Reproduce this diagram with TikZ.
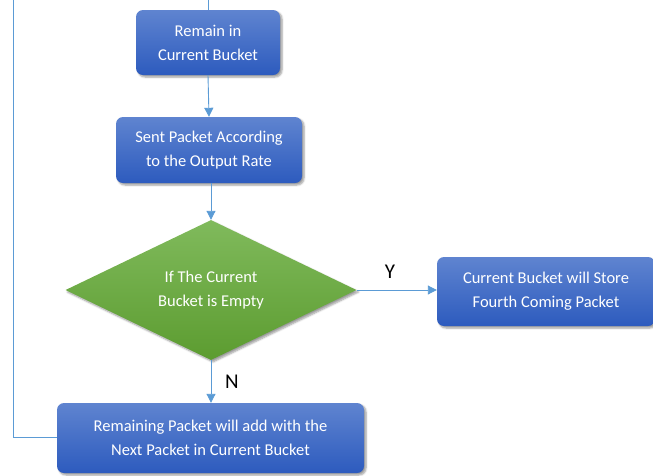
\documentclass[tikz,border=0pt]{standalone}
\usepackage{fontspec}
\setmainfont{Carlito}
\usetikzlibrary{shapes.geometric,arrows.meta,shadows.blur}
\definecolor{boxtop}{HTML}{5F84D0}
\definecolor{boxbot}{HTML}{2D5BBE}
\definecolor{greentop}{HTML}{80BA5C}
\definecolor{greenbot}{HTML}{5C9C30}
\definecolor{linec}{HTML}{5B9BD5}
\tikzset{
  px/.style={x=1pt,y=-1pt},
  bluebox/.style={rectangle, rounded corners=7pt, top color=boxtop, bottom color=boxbot,
    text=white, font=\fontsize{16.5}{25}\selectfont, align=center, inner sep=0pt,
    blur shadow={shadow xshift=2pt, shadow yshift=-2pt, shadow blur steps=5, shadow opacity=40}},
  decision/.style={diamond, aspect=2.08, top color=greentop, bottom color=greenbot,
    text=white, font=\fontsize{16.5}{25}\selectfont, align=center, inner sep=0pt,
    blur shadow={shadow xshift=2pt, shadow yshift=-2pt, shadow blur steps=5, shadow opacity=40}},
  conn/.style={draw=linec, line width=0.9pt, -{Triangle[length=9pt,width=9pt]}},
  plain/.style={draw=linec, line width=0.9pt},
  lbl/.style={font=\fontsize{21}{21}\selectfont, text=black}
}
\begin{document}
\begin{tikzpicture}[px]
\useasboundingbox (0,0) rectangle (653,475);
\node[bluebox, minimum width=144pt, minimum height=65pt] (b1) at (208,42.5) {Remain in\\[-1pt]Current Bucket};
\node[bluebox, minimum width=186pt, minimum height=66pt] (b2) at (209,150) {Sent Packet According\\[-1pt]to the Output Rate};
\node[decision, minimum width=291pt, minimum height=140pt] (d) at (211,290) {If The Current\\[-1pt]Bucket is Empty};
\node[bluebox, minimum width=218pt, minimum height=69pt] (b3) at (546,291.5) {Current Bucket will Store\\[-1pt]Fourth Coming Packet};
\node[bluebox, minimum width=307pt, minimum height=70pt] (b4) at (210.5,438) {Remaining Packet will add with the\\[-1pt]Next Packet in Current Bucket};
\coordinate (top1) at (208,0);
\coordinate (lb) at (13,437);
\coordinate (lt) at (13,0);
\path[plain] (top1) -- (b1.north);
\path[conn] (b1.south) -- (b2.north);
\path[conn] (b2.south -| d.north) -- (d.north);
\path[conn] (d.east) -- (b3.west |- d.east);
\path[conn] (d.south) -- (b4.north -| d.south);
\path[plain] (b4.west |- lb) -- (lb) -- (lt);
\node[lbl] (y) at (390,272) {Y};
\node[lbl] (n) at (232,382) {N};
\end{tikzpicture}
\end{document}
